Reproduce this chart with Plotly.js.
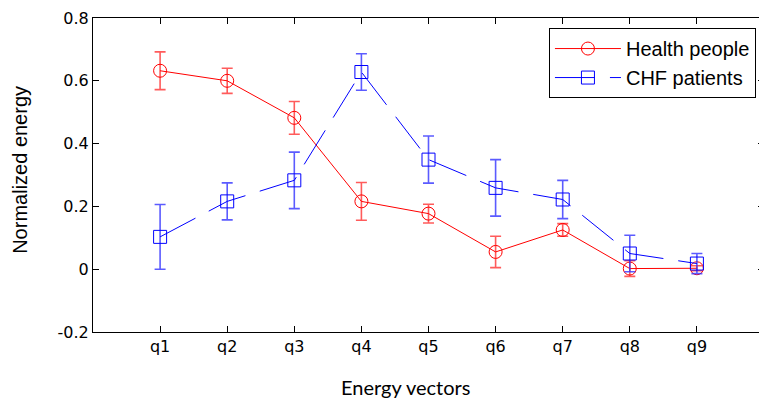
<!DOCTYPE html>
<html>
<head>
<meta charset="utf-8">
<script src="https://cdn.plot.ly/plotly-3.0.1.min.js"></script>
<style>
html,body{margin:0;padding:0;overflow:hidden;background:#fff;}
#chart{width:768px;height:399px;}
</style>
</head>
<body>
<div id="chart"></div>
<script>
const categories = ["q1","q2","q3","q4","q5","q6","q7","q8","q9"];
const xPos = [1,2,3,4,5,6,7,8,9];
const healthValues = [0.632, 0.600, 0.482, 0.216, 0.177, 0.055, 0.125, 0.002, 0.003];
const healthErrors = [0.060, 0.040, 0.052, 0.060, 0.030, 0.050, 0.020, 0.025, 0.008];
const chfValues    = [0.103, 0.216, 0.283, 0.628, 0.349, 0.259, 0.222, 0.050, 0.018];
const chfErrors    = [0.103, 0.059, 0.090, 0.058, 0.075, 0.090, 0.061, 0.058, 0.032];
const yTickVals = [-0.2, 0, 0.2, 0.4, 0.6, 0.8];
const yTickText = ["-0.2", "0", "0.2", "0.4", "0.6", "0.8"];

const red = "#ff0000", blue = "#0000ff";

const traces = [
  {
    x: xPos, y: healthValues, name: "Health people", type: "scatter", mode: "lines+markers",
    line: {color: red, width: 1},
    marker: {symbol: "circle-open", size: 13, color: red, line: {color: red, width: 1}},
    error_y: {type: "data", array: healthErrors, visible: true, color: "rgba(255,50,50,0.8)", thickness: 1.6, width: 5.5}
  },
  {
    x: xPos, y: chfValues, name: "CHF patients", type: "scatter", mode: "lines+markers",
    line: {color: blue, width: 1, dash: "40px,15px"},
    marker: {symbol: "square-open", size: 13, color: blue, line: {color: blue, width: 1}},
    error_y: {type: "data", array: chfErrors, visible: true, color: "rgba(50,50,255,0.8)", thickness: 1.6, width: 5.5}
  }
];

const tickFont = {family: "DejaVu Sans", size: 16, color: "#000"};

const layout = {
  width: 768, height: 399,
  margin: {l: 93, r: 4, t: 18, b: 67, pad: 0},
  paper_bgcolor: "#fff", plot_bgcolor: "#fff",
  font: {family: "Liberation Sans", size: 16, color: "#000"},
  showlegend: true,
  legend: {
    x: 0.988, y: 0.968, xanchor: "right", yanchor: "top",
    bgcolor: "#fff", bordercolor: "#000", borderwidth: 1,
    font: {family: "Liberation Sans", size: 20, color: "#000"},
    itemwidth: 66, tracegroupgap: 0
  },
  xaxis: {
    range: [0, 10], tickvals: xPos, ticktext: categories,
    ticks: "inside", ticklen: 6, tickcolor: "#000", tickwidth: 1,
    showline: true, linecolor: "#000", linewidth: 1, mirror: "ticks",
    showgrid: false, zeroline: false, fixedrange: true, tickfont: tickFont
  },
  yaxis: {
    range: [-0.2, 0.8], tickvals: yTickVals, ticktext: yTickText,
    ticks: "inside", ticklen: 6, tickcolor: "#000", tickwidth: 1,
    showline: true, linecolor: "#000", linewidth: 1, mirror: "ticks",
    showgrid: false, zeroline: false, fixedrange: true, tickfont: tickFont
  },
  annotations: [
    {text: "Energy vectors", xref: "paper", yref: "paper", x: 0.465, y: -0.175,
     xanchor: "center", yanchor: "middle", showarrow: false,
     font: {family: "Lato", size: 20, color: "#000"}},
    {text: "Normalized energy", xref: "paper", yref: "paper", x: -0.108, y: 0.515,
     xanchor: "center", yanchor: "middle", textangle: -90, showarrow: false,
     font: {family: "Liberation Sans", size: 20, color: "#000"}}
  ]
};

Plotly.newPlot("chart", traces, layout, {displayModeBar: false, responsive: false, staticPlot: true});
</script>
</body>
</html>
